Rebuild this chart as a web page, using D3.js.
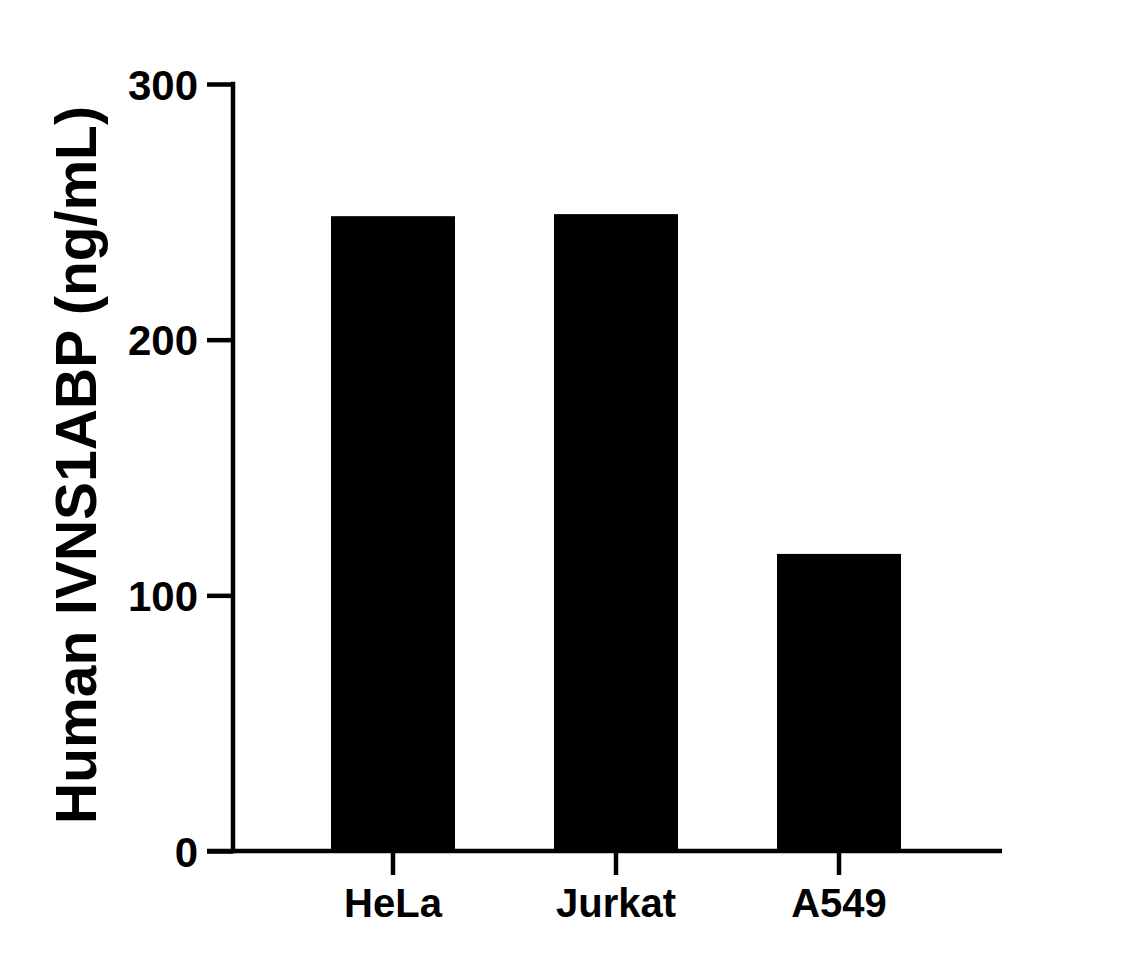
<!DOCTYPE html>
<html>
<head>
<meta charset="utf-8">
<script src="https://cdn.jsdelivr.net/npm/d3@7"></script>
<style>
  html, body { margin: 0; padding: 0; background: #fff; }
  svg { display: block; }
  text { font-family: Arial, "Liberation Sans", sans-serif; font-weight: bold; fill: #000; }
</style>
</head>
<body>
<svg id="chart" width="1138" height="967"></svg>
<script>
const categories = ["HeLa", "Jurkat", "A549"];
const values = [248.3, 249.1, 116.2];
const yTicks = [0, 100, 200, 300];
const yTitle = "Human IVNS1ABP (ng/mL)";

const svg = d3.select("#chart");
const axisX = 233, yTop = 84, yBottom = 851;
const xLeft = 207, xRight = 1002;
const lw = 4.5;

const y = d3.scaleLinear().domain([0, 300]).range([yBottom, yTop]);
const x = d3.scaleBand().domain(categories).range([281.5, 950.5])
  .paddingInner(0.444).paddingOuter(0.222);

// bars
svg.append("g").selectAll("rect").data(values).join("rect")
  .attr("x", (d, i) => x(categories[i]))
  .attr("width", x.bandwidth())
  .attr("y", d => y(d))
  .attr("height", d => y(0) - y(d))
  .attr("fill", "#000");

// y axis
const gy = svg.append("g").attr("transform", `translate(${axisX},0)`)
  .call(d3.axisLeft(y).tickValues(yTicks).tickSize(26).tickPadding(9).tickFormat(d3.format("d")));
gy.select(".domain").remove();
gy.selectAll(".tick line").attr("stroke", "#000").attr("stroke-width", lw);
gy.selectAll(".tick text").style("font-size", "42px").attr("dy", "0.36em");
svg.append("line").attr("x1", axisX).attr("x2", axisX)
  .attr("y1", yTop - lw / 2).attr("y2", yBottom + lw / 2)
  .attr("stroke", "#000").attr("stroke-width", lw);

// x axis
const gx = svg.append("g").attr("transform", `translate(0,${yBottom})`)
  .call(d3.axisBottom(x).tickSize(24).tickPadding(14));
gx.select(".domain").remove();
gx.selectAll(".tick line").attr("stroke", "#000").attr("stroke-width", lw);
gx.selectAll(".tick text").style("font-size", "40px");
svg.append("line").attr("x1", xLeft).attr("x2", xRight)
  .attr("y1", yBottom).attr("y2", yBottom)
  .attr("stroke", "#000").attr("stroke-width", lw);

// y title
svg.append("text")
  .attr("transform", `translate(96,465) rotate(-90)`)
  .attr("text-anchor", "middle")
  .style("font-size", "57px")
  .text(yTitle);
</script>
</body>
</html>
